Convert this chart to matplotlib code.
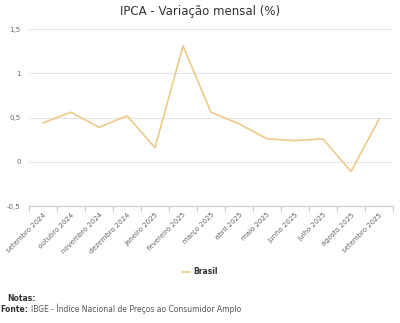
import matplotlib
matplotlib.use("Agg")
import matplotlib.pyplot as plt
import numpy as np

months = ["setembro 2024", "outubro 2024", "novembro 2024", "dezembro 2024",
          "janeiro 2025", "fevereiro 2025", "março 2025", "abril 2025",
          "maio 2025", "junho 2025", "julho 2025", "agosto 2025", "setembro 2025"]
brasil = [0.44, 0.56, 0.39, 0.52, 0.16, 1.31, 0.56, 0.43, 0.26, 0.24, 0.26, -0.11, 0.48]
yticks = [-0.5, 0, 0.5, 1, 1.5]
ytick_labels = ["-0,5", "0", "0,5", "1", "1,5"]

plt.rcParams['font.family'] = ['DejaVu Sans']
fig = plt.figure(figsize=(4.0, 3.23), dpi=100)
ax = fig.add_axes([0.0725, 0.362, 0.91, 0.548])

color = "#eec98a"
x = np.arange(len(months))
ax.plot(x, brasil, color=color, lw=1.2, zorder=3)

ax.set_xlim(-0.5, len(months) - 0.5)
ax.set_ylim(-0.5, 1.5)
ax.set_yticks(yticks)
ax.set_yticklabels(ytick_labels, fontsize=5, color="#666666")
ax.yaxis.grid(True, color="#e6e6e6", lw=0.8)
ax.set_axisbelow(True)
ax.tick_params(axis="y", length=0, pad=6)

ax.set_xticks(x)
ax.set_xticklabels(months, rotation=45, ha="right", rotation_mode="anchor",
                   fontsize=5, color="#666666")
ax.tick_params(axis="x", length=0, pad=4)
ax.set_xticks(np.arange(len(months) + 1) - 0.5, minor=True)
ax.tick_params(axis="x", which="minor", length=4, color="#cccccc", width=0.8)

for s in ["top", "right", "left"]:
    ax.spines[s].set_visible(False)
ax.spines["bottom"].set_color("#cccccc")
ax.spines["bottom"].set_linewidth(0.8)

fig.text(0.5, 0.963, "IPCA - Variação mensal (%)", ha="center", va="center",
         fontsize=8.5, color="#333333")

leg = fig.legend([plt.Line2D([], [], color=color, lw=1.2)], ["Brasil"],
                 loc="center", bbox_to_anchor=(0.5, 0.158), frameon=False,
                 handlelength=1.0, handletextpad=0.5,
                 prop={"size": 5.5, "weight": "bold"})
for t in leg.get_texts():
    t.set_color("#333333")

fig.text(0.018, 0.077, "Notas:", fontsize=5.5, color="#333333", va="center", fontweight="bold")
fonte = fig.text(0.0, 0.043, "Fonte:", fontsize=5.5, color="#333333", va="center", fontweight="bold")
fig.canvas.draw()
bb = fonte.get_window_extent(renderer=fig.canvas.get_renderer())
x0 = (bb.x1 + 3) / fig.bbox.width
fig.text(x0, 0.043, "IBGE - Índice Nacional de Preços ao Consumidor Amplo",
         fontsize=5.5, color="#555555", va="center")

fig.savefig("out.png", dpi=100)
